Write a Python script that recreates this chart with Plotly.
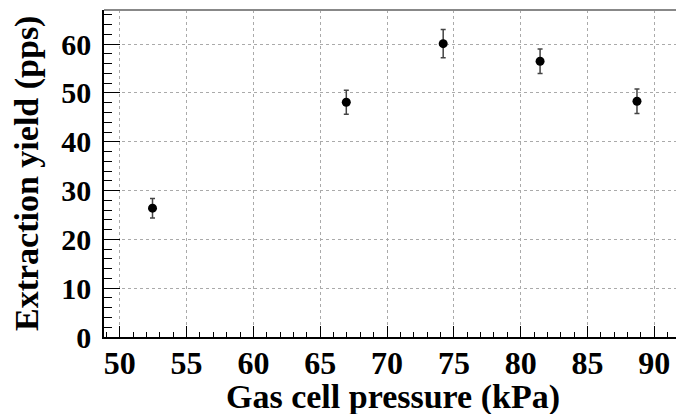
import plotly.graph_objects as go

pressure = [52.45, 66.95, 74.2, 81.45, 88.7]
yield_pps = [26.4, 48.1, 60.1, 56.5, 48.3]
yield_err = [2.0, 2.45, 2.9, 2.5, 2.5]
x_ticks = [50, 55, 60, 65, 70, 75, 80, 85, 90]
y_ticks = [0, 10, 20, 30, 40, 50, 60]

x_title = "Gas cell pressure (kPa)"
y_title = "Extraction yield (pps)"
FONT = "Liberation Serif"

fig = go.Figure()
fig.add_trace(go.Scatter(
    x=pressure, y=yield_pps, mode="markers",
    marker=dict(color="black", size=9),
    error_y=dict(type="data", array=yield_err, visible=True,
                 color="#444444", thickness=1.5, width=2.5),
    showlegend=False,
))

fig.update_layout(
    width=676, height=414,
    margin=dict(l=104, r=0, t=10, b=77),
    plot_bgcolor="white", paper_bgcolor="white",
    font=dict(family=FONT, color="black"),
    xaxis=dict(
        range=[48.82, 91.62], tickmode="array",
        tickvals=x_ticks, ticktext=[f"<b>{v}</b>" for v in x_ticks],
        ticks="inside", ticklen=11, tickwidth=1.3, tickcolor="black",
        showline=True, linecolor="black", linewidth=2,
        showgrid=True, gridcolor="#aaaaaa", griddash="dot", gridwidth=1,
        zeroline=False,
        tickfont=dict(family=FONT, size=32, color="black"),
        ticklabelstandoff=-3,
        minor=dict(dtick=1, ticks="inside", ticklen=5, tickwidth=1, tickcolor="black", showgrid=False),
    ),
    yaxis=dict(
        range=[0, 67], tickmode="array",
        tickvals=y_ticks, ticktext=[f"<b>{v}</b>" for v in y_ticks],
        ticks="inside", ticklen=16, tickwidth=1.3, tickcolor="black",
        showline=True, linecolor="black", linewidth=1.5,
        showgrid=True, gridcolor="#aaaaaa", griddash="dot", gridwidth=1,
        zeroline=False,
        tickfont=dict(family=FONT, size=30, color="black"),
        ticklabelstandoff=5,
        minor=dict(dtick=2, ticks="inside", ticklen=8, tickwidth=1, tickcolor="black", showgrid=False),
    ),
    shapes=[dict(type="line", xref="paper", yref="paper", x0=0, x1=1, y0=1, y1=1,
                 line=dict(color="#888888", width=2))],
    annotations=[
        dict(text="<b>" + x_title + "</b>", xref="paper", yref="paper",
             x=(393 - 104) / 572, y=(414 - 77 - 397) / 327,
             showarrow=False, xanchor="center", yanchor="middle",
             font=dict(family=FONT, size=34, color="black")),
        dict(text="<b>" + y_title + "</b>", xref="paper", yref="paper",
             x=(27 - 104) / 572, y=(337 - 174) / 327,
             showarrow=False, xanchor="center", yanchor="middle", textangle=-90,
             font=dict(family=FONT, size=34, color="black")),
    ],
)

fig.write_html("out.html")
